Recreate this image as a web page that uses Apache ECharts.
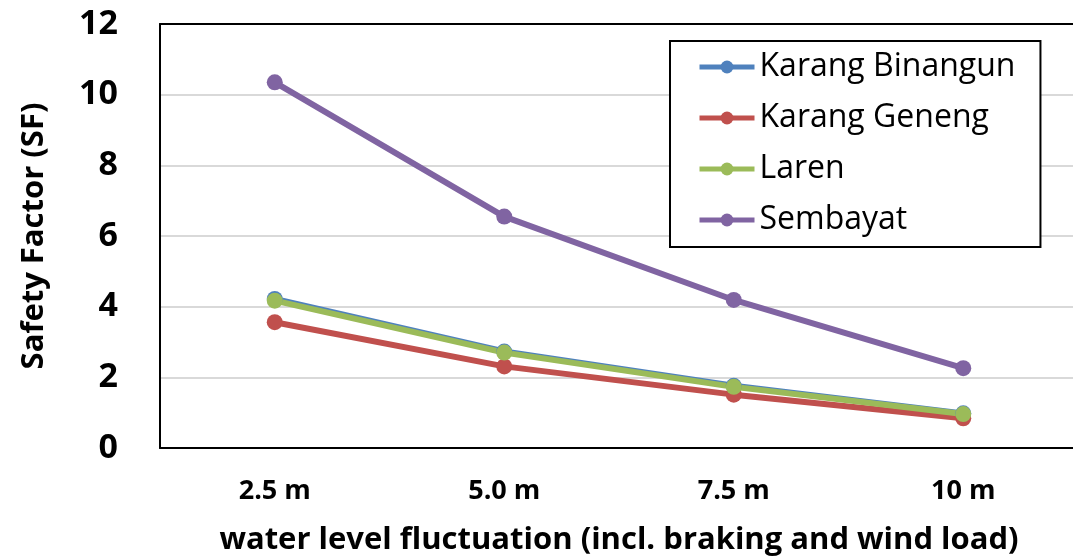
<!DOCTYPE html>
<html><head><meta charset="utf-8">
<script src="https://cdn.jsdelivr.net/npm/echarts@6/dist/echarts.min.js"></script>
<style>html,body{margin:0;padding:0;background:#fff}#c{width:1073px;height:556px}</style>
</head><body><div id="c"></div>
<script>
var categories = ['2.5 m', '5.0 m', '7.5 m', '10 m'];
var karangBinangun = [4.22, 2.73, 1.76, 0.98];
var karangGeneng = [3.56, 2.31, 1.51, 0.84];
var laren = [4.17, 2.70, 1.73, 0.96];
var sembayat = [10.35, 6.55, 4.19, 2.26];
var seriesNames = ['Karang Binangun', 'Karang Geneng', 'Laren', 'Sembayat'];
var seriesColors = ['#4f81bd', '#c0504d', '#9bbb59', '#8064a2'];
var seriesValues = [karangBinangun, karangGeneng, laren, sembayat];

var FONT = 'Open Sans';
var chart = echarts.init(document.getElementById('c'), null, {renderer: 'canvas'});
chart.setOption({
  animation: false,
  backgroundColor: '#fff',
  grid: {left: 160, top: 24, width: 918, height: 424, containLabel: false, outerBoundsMode: 'none'},
  legend: {
    orient: 'vertical', left: 670, top: 41,
    padding: [8, 25, 9, 27], itemGap: 15, itemWidth: 55, itemHeight: 16,
    borderColor: '#000', borderWidth: 2, backgroundColor: '#fff',
    lineStyle: {width: 5},
    textStyle: {fontFamily: FONT, fontSize: 32, color: '#000', lineHeight: 36, padding: [0, 0, 0, 0]},
    data: seriesNames
  },
  xAxis: [{
    type: 'category', data: categories, boundaryGap: true,
    axisLine: {show: true, lineStyle: {color: '#000', width: 2}}, axisTick: {show: false},
    axisLabel: {fontFamily: FONT, fontWeight: 'bold', fontSize: 27, color: '#000', margin: 30},
    name: 'water level fluctuation (incl. braking and wind load)', nameLocation: 'middle', nameGap: 77,
    nameTextStyle: {fontFamily: FONT, fontWeight: 'bold', fontSize: 31, color: '#000'}
  }, {
    type: 'category', data: categories, position: 'top', boundaryGap: true,
    axisLine: {show: true, lineStyle: {color: '#000', width: 2}}, axisTick: {show: false},
    axisLabel: {show: false}
  }],
  yAxis: {
    type: 'value', min: 0, max: 12, interval: 2,
    axisLine: {show: true, lineStyle: {color: '#000', width: 2}}, axisTick: {show: false},
    splitLine: {lineStyle: {color: '#d9d9d9', width: 2}},
    axisLabel: {fontFamily: FONT, fontWeight: 'bold', fontSize: 34, color: '#000', margin: 42},
    name: 'Safety Factor (SF)', nameLocation: 'middle', nameGap: 110, nameRotate: 90,
    nameTextStyle: {fontFamily: FONT, fontWeight: 'bold', fontSize: 31, color: '#000'}
  },
  series: seriesNames.map(function (n, i) {
    return {
      name: n, type: 'line', data: seriesValues[i],
      symbol: 'circle', symbolSize: 16,
      lineStyle: {color: seriesColors[i], width: 6},
      itemStyle: {color: seriesColors[i]}
    };
  })
});
</script></body></html>
